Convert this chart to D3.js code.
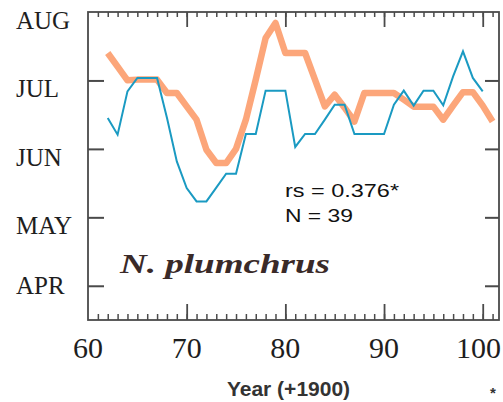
<!DOCTYPE html>
<html>
<head>
<meta charset="utf-8">
<script src="https://cdn.jsdelivr.net/npm/d3@7"></script>
<style>
  html, body { margin: 0; padding: 0; background: #fff; }
  svg { display: block; }
</style>
</head>
<body>
<svg id="chart" width="503" height="402"></svg>
<script>
// ---- Data (month units: 0 = APR 1, 1 = MAY 1, 2 = JUN 1, 3 = JUL 1, 4 = AUG 1) ----
const blueYears = d3.range(62, 101);
const blueValues = [
  2.452, 2.208, 2.841, 3.037, 3.037, 3.037, 2.456, 1.817, 1.428, 1.232,
  1.232, 1.433, 1.637, 1.637, 2.218, 2.218, 2.851, 2.851, 2.851, 2.028,
  2.218, 2.218, 2.427, 2.646, 2.646, 2.218, 2.218, 2.218, 2.218, 2.646,
  2.851, 2.632, 2.851, 2.851, 2.636, 3.060, 3.425, 3.037, 2.841
];
const orangeYears = d3.range(62, 102);
const orangeValues = [
  3.401, 3.202, 3.002, 3.012, 3.012, 3.012, 2.817, 2.817, 2.621, 2.427,
  1.988, 1.793, 1.793, 2.000, 2.427, 3.012, 3.620, 3.840, 3.401, 3.401,
  3.401, 3.012, 2.621, 2.792, 2.602, 2.400, 2.817, 2.817, 2.817, 2.817,
  2.719, 2.617, 2.617, 2.617, 2.427, 2.632, 2.829, 2.829, 2.632, 2.400
];
const monthLabels = ["APR", "MAY", "JUN", "JUL", "AUG"];
const monthTickValues = [0, 1, 2, 3];
const yearMajorTicks = [60, 70, 80, 90, 100];
const yearMinorTicks = d3.range(61, 102);
const statsLines = ["rs = 0.376*", "N = 39"];
const speciesName = "N. plumchrus";
const xTitle = "Year (+1900)";

// ---- Layout ----
const svg = d3.select("#chart");
const W = 503;
const L = 88, R = 499, T = 12, B = 320;
const x = d3.scaleLinear().domain([60, 101.65]).range([L, R]);
const y = d3.scaleLinear().domain([-0.5, 4]).range([B, T]);

const axisColor = "#4a4a4a";

// Lines
const line = d3.line().x(d => x(d[0])).y(d => y(d[1]));
svg.append("path")
  .datum(orangeYears.map((yr, i) => [yr, orangeValues[i]]))
  .attr("d", line)
  .attr("fill", "none")
  .attr("stroke", "#fca67a")
  .attr("stroke-width", 6.5)
  .attr("stroke-linejoin", "round");
svg.append("path")
  .datum(blueYears.map((yr, i) => [yr, blueValues[i]]))
  .attr("d", line)
  .attr("fill", "none")
  .attr("stroke", "#1a9ac2")
  .attr("stroke-width", 2);

// Ticks
function styleAxis(g, w) {
  g.select(".domain").remove();
  g.selectAll(".tick line").attr("stroke", axisColor).attr("stroke-width", w);
  g.selectAll(".tick text").remove();
}
svg.append("g").attr("transform", `translate(0,${B})`)
  .call(d3.axisBottom(x).tickValues(yearMinorTicks).tickSize(-6).tickFormat(""))
  .call(g => styleAxis(g, 1.5));
svg.append("g").attr("transform", `translate(0,${B})`)
  .call(d3.axisBottom(x).tickValues(yearMajorTicks.slice(1)).tickSize(-16).tickFormat(""))
  .call(g => styleAxis(g, 1.8));
svg.append("g").attr("transform", `translate(0,${T})`)
  .call(d3.axisTop(x).tickValues(yearMinorTicks).tickSize(-5).tickFormat(""))
  .call(g => styleAxis(g, 1.5));
svg.append("g").attr("transform", `translate(0,${T})`)
  .call(d3.axisTop(x).tickValues(yearMajorTicks.slice(1)).tickSize(-15).tickFormat(""))
  .call(g => styleAxis(g, 1.8));
svg.append("g").attr("transform", `translate(${L},0)`)
  .call(d3.axisLeft(y).tickValues(monthTickValues).tickSize(-16).tickFormat(""))
  .call(g => styleAxis(g, 2));
svg.append("g").attr("transform", `translate(${R},0)`)
  .call(d3.axisRight(y).tickValues(monthTickValues).tickSize(-14).tickFormat(""))
  .call(g => styleAxis(g, 2));

// Frame
svg.append("rect")
  .attr("x", L).attr("y", T).attr("width", R - L).attr("height", B - T)
  .attr("fill", "none").attr("stroke", axisColor).attr("stroke-width", 1.8);

// Month labels
svg.append("g").selectAll("text")
  .data(monthLabels)
  .join("text")
  .attr("x", 16)
  .attr("y", (d, i) => Math.min(y(i) + 17, y(-0.5) - 26))
  .attr("font-family", "'Liberation Serif', 'Times New Roman', serif")
  .attr("font-size", 25)
  .attr("fill", "#1e1e1e")
  .text(d => d);

// Year labels (kept inside the picture's right edge)
svg.append("g").selectAll("text")
  .data(yearMajorTicks)
  .join("text")
  .attr("y", 358)
  .attr("text-anchor", "middle")
  .attr("font-family", "'Liberation Serif', 'Times New Roman', serif")
  .attr("font-size", 30)
  .attr("fill", "#1e1e1e")
  .text(d => d)
  .each(function(d) {
    const w = this.getComputedTextLength();
    d3.select(this).attr("x", Math.min(x(d), W - 2 - w / 2));
  });

// Axis title
svg.append("text")
  .attr("x", 288.5).attr("y", 396)
  .attr("text-anchor", "middle")
  .attr("font-family", "'Liberation Sans', Arial, sans-serif")
  .attr("font-weight", "bold")
  .attr("font-size", 21)
  .attr("fill", "#333")
  .text(xTitle);

svg.append("text")
  .attr("x", 493).attr("y", 398)
  .attr("text-anchor", "middle")
  .attr("font-family", "'Liberation Sans', Arial, sans-serif")
  .attr("font-weight", "bold")
  .attr("font-size", 15)
  .attr("fill", "#333")
  .text("*");

// Stats
const statWidths = [114, 68];
svg.append("g").selectAll("text")
  .data(statsLines)
  .join("text")
  .attr("x", 285)
  .attr("y", (d, i) => 197 + i * 24.5)
  .attr("font-family", "'Liberation Sans', Arial, sans-serif")
  .attr("font-size", 19)
  .attr("fill", "#111")
  .attr("textLength", (d, i) => statWidths[i])
  .attr("lengthAdjust", "spacingAndGlyphs")
  .text(d => d);

// Species
svg.append("text")
  .attr("x", 120).attr("y", 273)
  .attr("font-family", "'Liberation Serif', 'Times New Roman', serif")
  .attr("font-weight", "bold")
  .attr("font-style", "italic")
  .attr("font-size", 27)
  .attr("fill", "#3a2a28")
  .attr("textLength", 210)
  .attr("lengthAdjust", "spacingAndGlyphs")
  .text(speciesName);
</script>
</body>
</html>
